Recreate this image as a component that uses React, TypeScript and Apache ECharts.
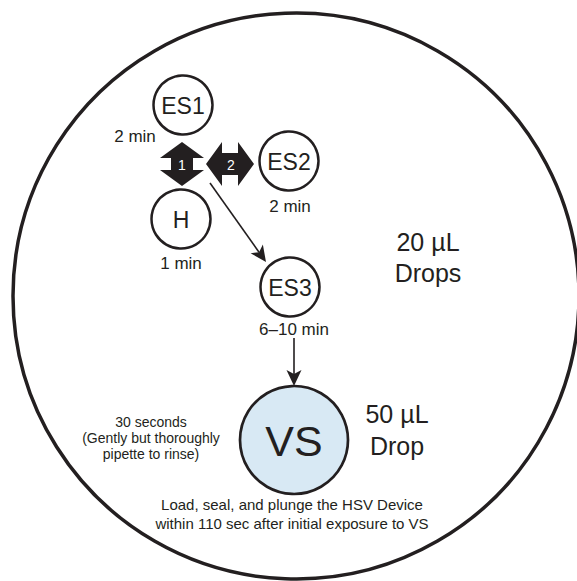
import React, { useEffect, useRef } from "react";
import * as echarts from "echarts";

// ---- content ----
const stepNames = ["ES1", "ES2", "H", "ES3"];
const stepTimes = ["2 min", "2 min", "1 min", "6–10 min"];
const finalName = "VS";
const swapNumbers = ["1", "2"];
const dropLabels20 = ["20 µL", "Drops"];
const dropLabels50 = ["50 µL", "Drop"];
const rinseNote = ["30 seconds", "(Gently but thoroughly", "pipette to rinse)"];
const plungeNote = ["Load, seal, and plunge the HSV Device", "within 110 sec after initial exposure to VS"];

// ---- layout ----
const INK = "#231f20";
const FONT = "'Liberation Sans', Arial, Helvetica, sans-serif";
const nodePos = [
  [183, 105],
  [289, 161],
  [181, 219],
  [290, 287],
];
const timePos = [
  [135, 136],
  [290, 206],
  [181, 263],
  [294, 329],
];
const vsPos = [294, 440];

function text(x: number, y: number, t: string, size: number, fill = INK, extra: any = {}) {
  return {
    type: "text",
    x,
    y,
    z: 10,
    style: {
      text: t,
      fill,
      fontSize: size,
      fontFamily: FONT,
      textAlign: "center",
      textVerticalAlign: "middle",
      ...extra,
    },
  };
}

function doubleArrow(cx: number, cy: number, vertical: boolean, HL: number, HW: number) {
  const h = 16, w = 11;
  let pts = [
    [0, -HL], [HW, -HL + h], [w, -HL + h], [w, HL - h], [HW, HL - h],
    [0, HL], [-HW, HL - h], [-w, HL - h], [-w, -HL + h], [-HW, -HL + h],
  ];
  if (!vertical) pts = pts.map(([a, b]) => [b, a]);
  return {
    type: "polygon",
    z: 5,
    shape: { points: pts.map(([a, b]) => [cx + a, cy + b]) },
    style: { fill: INK },
  };
}

function arrow(x1: number, y1: number, x2: number, y2: number) {
  const dx = x2 - x1, dy = y2 - y1;
  const L = Math.sqrt(dx * dx + dy * dy);
  const ux = dx / L, uy = dy / L;
  const px = -uy, py = ux;
  const hl = 16, hw = 7.5, notch = 4;
  const bx = x2 - ux * hl, by = y2 - uy * hl;
  return [
    {
      type: "line",
      z: 4,
      shape: { x1, y1, x2: x2 - ux * (hl - notch), y2: y2 - uy * (hl - notch) },
      style: { stroke: INK, lineWidth: 1.6 },
    },
    {
      type: "polygon",
      z: 5,
      shape: {
        points: [
          [x2, y2],
          [bx + px * hw, by + py * hw],
          [x2 - ux * (hl - notch), y2 - uy * (hl - notch)],
          [bx - px * hw, by - py * hw],
        ],
      },
      style: { fill: INK },
    },
  ];
}

export default function App() {
  const ref = useRef<HTMLDivElement>(null);
  useEffect(() => {
    if (!ref.current) return;
    const chart = echarts.init(ref.current, null, { renderer: "svg" });
    const elements: any[] = [];
    // outer dish
    elements.push({
      type: "circle",
      z: 1,
      shape: { cx: 296, cy: 296, r: 283 },
      style: { fill: "none", stroke: INK, lineWidth: 3.5 },
    });
    // step circles
    stepNames.forEach((n, i) => {
      const [x, y] = nodePos[i];
      elements.push({
        type: "circle",
        z: 3,
        shape: { cx: x, cy: y, r: 29.5 },
        style: { fill: "#fff", stroke: INK, lineWidth: 2.5 },
      });
      elements.push(text(x, y + 1, n, 23));
      const [tx, ty] = timePos[i];
      elements.push(text(tx, ty, stepTimes[i], 17));
    });
    // VS
    elements.push({
      type: "circle",
      z: 3,
      shape: { cx: vsPos[0], cy: vsPos[1], r: 54 },
      style: { fill: "#d8e9f4", stroke: INK, lineWidth: 2.7 },
    });
    elements.push(text(vsPos[0], vsPos[1] + 1, finalName, 43));
    // double arrows
    elements.push(doubleArrow(182, 164, true, 22, 22));
    elements.push(text(182, 165, swapNumbers[0], 14, "#fff"));
    elements.push(doubleArrow(230, 164, false, 24, 22));
    elements.push(text(231, 165, swapNumbers[1], 14, "#fff"));
    // arrows
    elements.push(...arrow(210, 183, 266, 262));
    elements.push(...arrow(294, 338, 294, 386));
    // drop labels
    dropLabels20.forEach((t, i) => elements.push(text(428, 242 + i * 31, t, 25)));
    dropLabels50.forEach((t, i) => elements.push(text(397, 414 + i * 32, t, 25)));
    rinseNote.forEach((t, i) => elements.push(text(151, 422 + i * 16, t, 14)));
    plungeNote.forEach((t, i) => elements.push(text(292, 504 + i * 19, t, 15)));

    chart.setOption({
      animation: false,
      backgroundColor: "#fff",
      graphic: { elements },
    });
    return () => chart.dispose();
  }, []);
  return (
    <div
      ref={ref}
      style={{ position: "absolute", left: 0, top: 0, width: 577, height: 581 }}
    />
  );
}
